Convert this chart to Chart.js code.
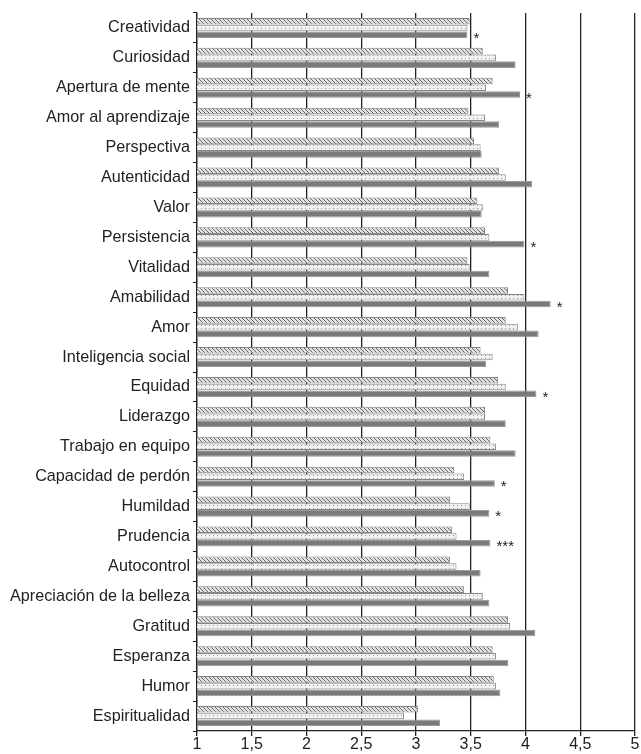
<!DOCTYPE html>
<html lang="es">
<head>
<meta charset="utf-8">
<title>Fortalezas del carácter</title>
<script src="https://cdn.jsdelivr.net/npm/chart.js@4.4.1/dist/chart.umd.min.js"></script>
<style>
    html, body { margin: 0; padding: 0; background: #fff; }
    #contenedor { width: 641px; height: 754px; position: relative; }
</style>
</head>
<body>
<div id="contenedor"><canvas id="grafico"></canvas></div>
<script>
// Datos
const categorias = [
    'Creatividad', 'Curiosidad', 'Apertura de mente', 'Amor al aprendizaje',
    'Perspectiva', 'Autenticidad', 'Valor', 'Persistencia', 'Vitalidad',
    'Amabilidad', 'Amor', 'Inteligencia social', 'Equidad', 'Liderazgo',
    'Trabajo en equipo', 'Capacidad de perdón', 'Humildad', 'Prudencia',
    'Autocontrol', 'Apreciación de la belleza', 'Gratitud', 'Esperanza',
    'Humor', 'Espiritualidad'
];

// Serie con rayado diagonal
const serieRayada = [
    3.49, 3.61, 3.70, 3.48, 3.53, 3.76, 3.56, 3.63, 3.47, 3.84, 3.82, 3.59,
    3.75, 3.63, 3.68, 3.35, 3.31, 3.33, 3.31, 3.44, 3.84, 3.70, 3.71, 3.02
];

// Serie punteada
const seriePunteada = [
    3.47, 3.73, 3.64, 3.63, 3.59, 3.82, 3.61, 3.67, 3.49, 3.99, 3.93, 3.70,
    3.82, 3.63, 3.73, 3.44, 3.49, 3.37, 3.37, 3.61, 3.86, 3.73, 3.73, 2.89
];

// Serie sólida
const serieSolida = [
    3.47, 3.91, 3.95, 3.76, 3.60, 4.06, 3.60, 3.99, 3.67, 4.23, 4.12, 3.64,
    4.10, 3.82, 3.91, 3.72, 3.67, 3.68, 3.59, 3.67, 4.09, 3.84, 3.77, 3.22
];

// Marcas de significación junto a la barra sólida
const significacion = [
    '*', '', '*', '', '', '', '', '*', '', '*', '', '',
    '*', '', '', '*', '*', '***', '', '', '', '', '', ''
];

const ticksX = [1, 1.5, 2, 2.5, 3, 3.5, 4, 4.5, 5];

const fuente = '"Liberation Sans", Arial, Helvetica, sans-serif';

// Patrones de relleno
function crearRayado() {
    const c = document.createElement('canvas');
    c.width = 4;
    c.height = 4;
    const ctx = c.getContext('2d');
    ctx.fillStyle = '#e2e2e2';
    ctx.fillRect(0, 0, 4, 4);
    ctx.strokeStyle = '#666';
    ctx.lineWidth = 1;
    ctx.beginPath();
    ctx.moveTo(-1, -1);
    ctx.lineTo(5, 5);
    ctx.moveTo(-1, 3);
    ctx.lineTo(1, 5);
    ctx.moveTo(3, -1);
    ctx.lineTo(5, 1);
    ctx.stroke();
    return ctx.createPattern(c, 'repeat');
}

function crearPunteado() {
    const c = document.createElement('canvas');
    c.width = 4;
    c.height = 3;
    const ctx = c.getContext('2d');
    ctx.fillStyle = '#f2f2f2';
    ctx.fillRect(0, 0, 4, 3);
    ctx.fillStyle = '#9a9a9a';
    ctx.fillRect(1, 1, 1, 1);
    return ctx.createPattern(c, 'repeat');
}

// Dibuja los asteriscos tras la barra sólida
const pluginAsteriscos = {
    id: 'asteriscos',
    afterDatasetsDraw(chart) {
        const meta = chart.getDatasetMeta(2);
        const ctx = chart.ctx;
        ctx.save();
        ctx.fillStyle = '#222';
        ctx.font = '15px ' + fuente;
        ctx.textAlign = 'left';
        ctx.textBaseline = 'alphabetic';
        meta.data.forEach((barra, i) => {
            const texto = significacion[i];
            if (!texto) return;
            ctx.fillText(texto, barra.x + 6, barra.y + 8);
        });
        ctx.restore();
    }
};

new Chart(document.getElementById('grafico'), {
    type: 'bar',
    data: {
        labels: categorias,
        datasets: [
            {
                data: serieRayada,
                backgroundColor: crearRayado(),
                borderColor: '#858585',
                borderWidth: 1
            },
            {
                data: seriePunteada,
                backgroundColor: crearPunteado(),
                borderColor: '#858585',
                borderWidth: 1
            },
            {
                data: serieSolida,
                backgroundColor: '#7a7a7a',
                borderColor: '#999',
                borderWidth: 1
            }
        ]
    },
    options: {
        indexAxis: 'y',
        responsive: true,
        maintainAspectRatio: false,
        animation: false,
        datasets: {
            bar: {
                categoryPercentage: 0.68,
                barPercentage: 0.97
            }
        },
        layout: {
            padding: { left: 7, right: 6, top: 13, bottom: 0 }
        },
        plugins: {
            legend: { display: false },
            tooltip: { enabled: false }
        },
        scales: {
            x: {
                type: 'linear',
                min: 1,
                max: 5,
                z: 1,
                afterBuildTicks: (eje) => {
                    eje.ticks = ticksX.map(v => ({ value: v }));
                },
                ticks: {
                    color: '#222',
                    font: { family: fuente, size: 16, lineHeight: 1 },
                    padding: 1,
                    maxRotation: 0,
                    callback: (v) => String(v).replace('.', ',')
                },
                grid: {
                    color: '#222',
                    lineWidth: 1.3,
                    tickLength: 5
                },
                border: { color: '#222', width: 1.3 }
            },
            y: {
                ticks: {
                    color: '#222',
                    font: { family: fuente, size: 16.2 },
                    padding: 3
                },
                grid: {
                    drawOnChartArea: false,
                    offset: true,
                    color: '#222',
                    tickLength: 4
                },
                border: { color: '#222', width: 1.3 }
            }
        }
    },
    plugins: [pluginAsteriscos]
});
</script>
</body>
</html>
